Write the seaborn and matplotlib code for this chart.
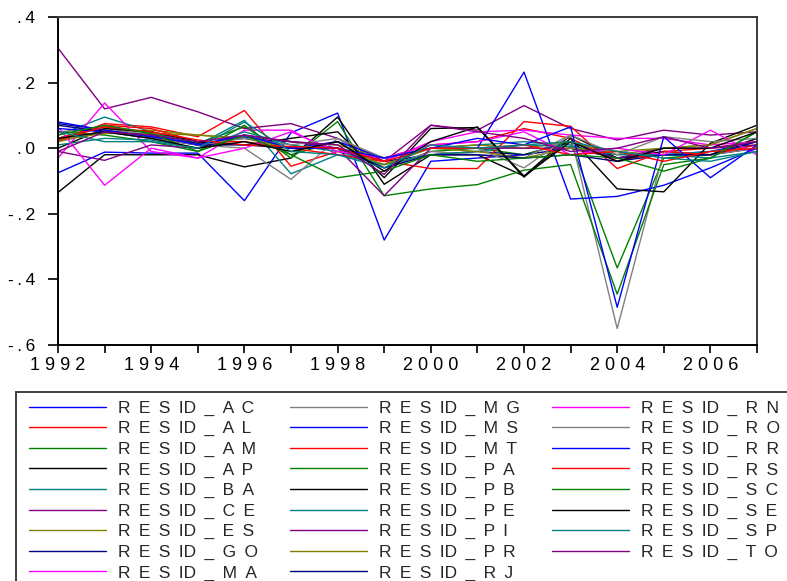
import numpy as np
import pandas as pd
import matplotlib
matplotlib.use("Agg")
import matplotlib.pyplot as plt
from matplotlib.lines import Line2D
from matplotlib.patches import Rectangle
import seaborn as sns

years = list(range(1992, 2008))

series_names = ["RESID_AC", "RESID_AL", "RESID_AM", "RESID_AP", "RESID_BA", "RESID_CE",
                "RESID_ES", "RESID_GO", "RESID_MA", "RESID_MG", "RESID_MS", "RESID_MT",
                "RESID_PA", "RESID_PB", "RESID_PE", "RESID_PI", "RESID_PR", "RESID_RJ",
                "RESID_RN", "RESID_RO", "RESID_RR", "RESID_RS", "RESID_SC", "RESID_SE",
                "RESID_SP", "RESID_TO"]

resid_ac = [-0.075, -0.012, -0.015, -0.015, -0.160, 0.047, 0.107, -0.280, -0.040, -0.030, -0.020, 0.020, -0.030, -0.020, -0.010, 0.020]
resid_al = [0.020, 0.075, 0.065, 0.035, 0.115, -0.055, -0.010, -0.030, 0.010, 0.020, 0.060, 0.030, -0.040, -0.010, 0.000, 0.020]
resid_am = [0.030, 0.065, 0.045, 0.015, 0.065, -0.020, 0.020, -0.060, -0.010, 0.000, -0.020, 0.020, -0.365, -0.030, -0.020, 0.030]
resid_ap = [-0.135, -0.020, -0.020, -0.020, -0.057, -0.030, 0.095, -0.110, -0.020, -0.020, -0.085, 0.040, -0.030, -0.010, -0.020, 0.030]
resid_ba = [0.040, 0.095, 0.050, 0.010, 0.085, -0.078, -0.020, -0.050, 0.000, 0.010, 0.020, 0.010, -0.030, -0.020, -0.010, 0.010]
resid_ce = [0.305, 0.120, 0.155, 0.111, 0.060, 0.075, 0.030, -0.040, 0.070, 0.055, 0.130, 0.060, 0.025, 0.055, 0.040, 0.050]
resid_es = [0.020, 0.050, 0.055, 0.040, 0.030, 0.020, 0.010, -0.030, 0.000, 0.010, 0.000, 0.020, -0.020, 0.000, 0.010, 0.060]
resid_go = [0.075, 0.055, 0.035, 0.015, 0.030, 0.020, 0.000, -0.040, -0.020, -0.010, -0.020, 0.000, -0.030, -0.020, -0.020, 0.000]
resid_ma = [-0.030, 0.138, -0.010, -0.030, 0.055, 0.055, -0.020, -0.040, 0.020, 0.050, 0.055, 0.040, 0.030, 0.030, 0.010, 0.020]
resid_mg = [0.050, 0.060, 0.040, 0.010, 0.000, -0.095, 0.030, -0.060, -0.010, -0.020, -0.030, 0.040, -0.550, -0.010, -0.020, 0.000]
resid_ms = [0.080, 0.055, 0.035, 0.010, 0.035, 0.000, 0.020, -0.030, 0.000, 0.000, 0.232, -0.155, -0.147, -0.113, -0.060, 0.000]
resid_mt = [0.030, 0.070, 0.060, 0.020, 0.020, 0.000, -0.020, -0.040, -0.062, -0.062, 0.081, 0.067, -0.062, -0.010, -0.020, 0.010]
resid_pa = [0.050, 0.040, 0.020, -0.010, 0.070, -0.030, 0.081, -0.145, -0.124, -0.111, -0.067, -0.050, -0.445, -0.050, -0.030, 0.050]
resid_pb = [0.000, 0.060, 0.050, 0.020, 0.010, 0.030, 0.050, -0.090, 0.060, 0.063, -0.088, 0.030, -0.124, -0.133, 0.015, 0.070]
resid_pe = [0.010, 0.030, 0.025, 0.000, 0.050, 0.010, -0.010, -0.050, -0.020, -0.010, 0.010, 0.005, -0.020, -0.020, -0.030, -0.010]
resid_pi = [-0.010, -0.037, 0.010, 0.000, 0.040, 0.020, 0.000, -0.145, 0.000, 0.000, 0.000, 0.000, -0.030, 0.000, 0.000, 0.010]
resid_pr = [0.025, 0.045, 0.045, 0.040, 0.030, 0.000, 0.000, -0.050, 0.000, -0.010, -0.030, 0.000, -0.010, 0.000, 0.010, 0.060]
resid_rj = [0.070, 0.050, 0.030, 0.010, 0.010, 0.000, 0.000, -0.060, -0.020, -0.020, -0.030, -0.020, -0.040, -0.020, -0.020, 0.020]
resid_rn = [0.065, -0.113, 0.000, -0.030, 0.000, 0.050, -0.010, -0.030, 0.010, 0.020, 0.050, -0.020, 0.000, -0.020, 0.055, -0.020]
resid_ro = [0.030, 0.050, 0.030, 0.010, 0.030, 0.010, 0.030, -0.030, 0.000, 0.000, -0.060, 0.040, -0.020, 0.035, 0.020, 0.030]
resid_rr = [0.060, 0.050, 0.040, 0.010, 0.040, 0.000, 0.000, -0.030, 0.000, 0.030, 0.010, 0.065, -0.485, 0.035, -0.090, 0.010]
resid_rs = [0.025, 0.065, 0.050, 0.025, 0.010, 0.005, 0.000, -0.040, 0.000, 0.000, 0.010, -0.020, -0.010, -0.040, -0.010, 0.000]
resid_sc = [0.040, 0.070, 0.045, -0.010, 0.040, -0.020, -0.090, -0.070, -0.020, -0.040, -0.030, -0.020, -0.030, -0.070, -0.030, 0.050]
resid_se = [0.030, 0.050, 0.030, 0.000, 0.020, -0.010, 0.020, -0.070, 0.020, 0.065, -0.085, 0.020, -0.040, 0.000, 0.000, 0.050]
resid_sp = [0.050, 0.020, 0.020, 0.000, 0.080, -0.010, -0.020, -0.060, 0.010, 0.000, 0.010, 0.020, -0.010, -0.030, -0.040, -0.010]
resid_to = [-0.010, 0.050, 0.040, 0.020, 0.040, 0.020, 0.010, -0.080, 0.070, 0.050, 0.030, -0.010, 0.000, 0.035, 0.000, 0.020]

all_values = [resid_ac, resid_al, resid_am, resid_ap, resid_ba, resid_ce, resid_es, resid_go,
              resid_ma, resid_mg, resid_ms, resid_mt, resid_pa, resid_pb, resid_pe, resid_pi,
              resid_pr, resid_rj, resid_rn, resid_ro, resid_rr, resid_rs, resid_sc, resid_se,
              resid_sp, resid_to]

y_ticks = [-0.6, -0.4, -0.2, 0.0, 0.2, 0.4]
y_tick_labels = ["-\u2009.\u20096", "-\u2009.\u20094", "-\u2009.\u20092",
                 ".\u20090", ".\u20092", ".\u20094"]

base_cycle = ["#0000FF", "#FF0000", "#008000", "#000000", "#008080",
              "#800080", "#808000", "#000080", "#FF00FF", "#808080"]
colors = [base_cycle[i % len(base_cycle)] for i in range(len(series_names))]

rows = []
for name, vals in zip(series_names, all_values):
    for yr, v in zip(years, vals):
        rows.append({"year": yr, "value": v, "series": name})
df = pd.DataFrame(rows)

sns.set_theme(style="white")
plt.rcParams["font.family"] = ["Liberation Sans", "DejaVu Sans"]

W, H = 787, 581
fig = plt.figure(figsize=(W / 100, H / 100), dpi=100)
fig.patch.set_facecolor("white")
ax = fig.add_axes([58 / W, 1 - 345 / H, 699 / W, 328 / H])

sns.lineplot(data=df, x="year", y="value", hue="series", hue_order=series_names,
             palette=colors, linewidth=1.0, legend=False, estimator=None,
             sort=False, ax=ax)

ax.set_xlim(1992, 2007)
ax.set_ylim(-0.6, 0.4)
ax.set_xlabel("")
ax.set_ylabel("")
ax.set_xticks(years)
ax.set_xticklabels([" ".join(str(y)) if y % 2 == 0 else "" for y in years], fontsize=13)
ax.set_yticks(y_ticks)
ax.set_yticklabels(y_tick_labels, fontsize=12.5)
ax.tick_params(axis="y", direction="out", length=7.2, width=1.2, pad=9.4, colors="black", left=True)
ax.tick_params(axis="x", direction="out", length=5.8, width=1.2, pad=2.8, colors="black", bottom=True)
for s in ["left", "bottom"]:
    ax.spines[s].set_color("black")
    ax.spines[s].set_linewidth(1.4)
for s in ["top", "right"]:
    ax.spines[s].set_color("#3a3a3a")
    ax.spines[s].set_linewidth(1.4)
ax.grid(False)

# legend frame
fig.add_artist(Rectangle((16 / W, -0.1), 1.0, (1 - 392 / H) + 0.1, transform=fig.transFigure,
                         fill=False, edgecolor="#404040", linewidth=1.4))

SP = " \u2009"

def spaced(name):
    pre, suf = name.split("_")
    return SP.join(["R", "E", "S", "ID", "_"] + list(suf))

handles = [Line2D([], [], color=c, linewidth=1.0) for c in colors]
labels = [spaced(n) for n in series_names]
groups = [(0, 9, 29), (9, 18, 290), (18, 26, 552)]
fs = 12.5
fs_px = fs * 100 / 72
for a, b, xpx in groups:
    leg = fig.legend(handles[a:b], labels[a:b], loc="upper left",
                     bbox_to_anchor=(xpx / W, 1 - 400.5 / H), frameon=False,
                     fontsize=fs, handlelength=77 / fs_px, handletextpad=12 / fs_px,
                     labelspacing=0.305, borderpad=0, borderaxespad=0)

fig.savefig("out.png", dpi=100, facecolor="white")
